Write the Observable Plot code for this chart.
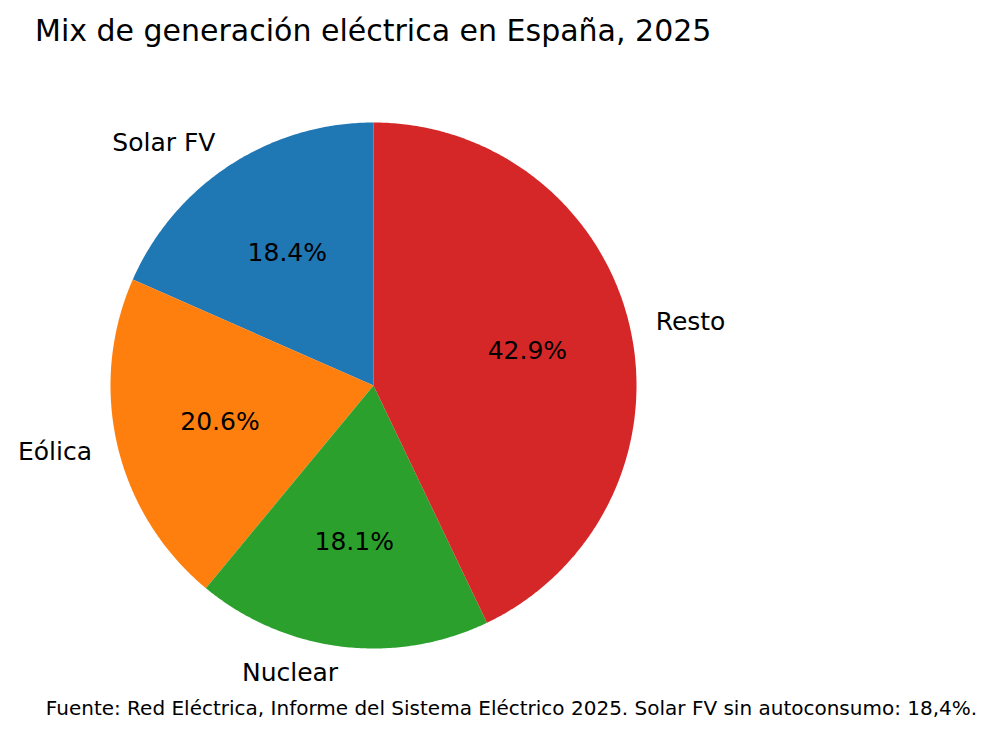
<!DOCTYPE html>
<html>
<head>
<meta charset="utf-8">
<script src="https://cdn.jsdelivr.net/npm/d3@7"></script>
<script src="https://cdn.jsdelivr.net/npm/@observablehq/plot@0.6"></script>
<style>
  body { margin: 0; background: #fff; font-family: "DejaVu Sans", sans-serif; }
  #wrap { width: 997px; height: 736px; overflow: hidden; }
  .title { box-sizing: border-box; height: 72px; margin: 0; padding: 14px 0 0 35px;
           font-size: 30px; font-weight: normal; line-height: 1.164; color: #000; white-space: nowrap; }
  .caption { box-sizing: border-box; margin: 0; padding: 9px 0 0 26px; text-align: center;
             font-size: 20px; line-height: 1.164; color: #000; white-space: nowrap; }
  svg { display: block; }
</style>
</head>
<body>
<div id="wrap">
  <div class="title">Mix de generación eléctrica en España, 2025</div>
  <div id="chart"></div>
  <div class="caption">Fuente: Red Eléctrica, Informe del Sistema Eléctrico 2025. Solar FV sin autoconsumo: 18,4%.</div>
</div>
<script>
// Generation mix shares (%)
const categories = ["Solar FV", "Eólica", "Nuclear", "Resto"];
const shares = [18.4, 20.6, 18.1, 42.9];
const palette = ["#1f77b4", "#ff7f0e", "#2ca02c", "#d62728"];

// Wedges start at 12 o'clock and run counterclockwise
const total = d3.sum(shares);
const rad = (deg) => deg * Math.PI / 180;
let start = 90;
const wedges = categories.map((name, i) => {
  const sweep = shares[i] / total * 360;
  const w = {name, value: shares[i], a0: start, a1: start + sweep, mid: start + sweep / 2};
  start += sweep;
  return w;
});

// Outline of each wedge in unit-radius coordinates
const outline = [];
for (const w of wedges) {
  outline.push({name: w.name, x: 0, y: 0});
  const n = Math.ceil((w.a1 - w.a0) / 0.5);
  for (let k = 0; k <= n; ++k) {
    const a = rad(w.a0 + (w.a1 - w.a0) * k / n);
    outline.push({name: w.name, x: Math.cos(a), y: Math.sin(a)});
  }
  outline.push({name: w.name, x: 0, y: 0});
}

const outer = wedges.map((w) => ({name: w.name, x: 1.1 * Math.cos(rad(w.mid)), y: 1.1 * Math.sin(rad(w.mid))}));
const inner = wedges.map((w) => ({text: w.value.toFixed(1) + "%", x: 0.6 * Math.cos(rad(w.mid)), y: 0.6 * Math.sin(rad(w.mid))}));

const W = 997, H = 616, R = 263, cx = 373, cy = 313;

const chart = Plot.plot({
  width: W,
  height: H,
  margin: 0,
  style: {fontFamily: "DejaVu Sans", background: "white", overflow: "visible"},
  x: {domain: [-cx / R, (W - cx) / R], axis: null},
  y: {domain: [-(H - cy) / R, cy / R], axis: null},
  color: {domain: categories, range: palette},
  marks: [
    Plot.line(outline, {x: "x", y: "y", z: "name", fill: "name", stroke: "none", curve: "linear"}),
    Plot.text(outer.filter((d) => d.x < 0), {x: "x", y: "y", text: "name", textAnchor: "end", fontSize: 25, fill: "black"}),
    Plot.text(outer.filter((d) => d.x >= 0), {x: "x", y: "y", text: "name", textAnchor: "start", fontSize: 25, fill: "black"}),
    Plot.text(inner, {x: "x", y: "y", text: "text", textAnchor: "middle", fontSize: 25, fill: "black"})
  ]
});
document.getElementById("chart").append(chart);
</script>
</body>
</html>
